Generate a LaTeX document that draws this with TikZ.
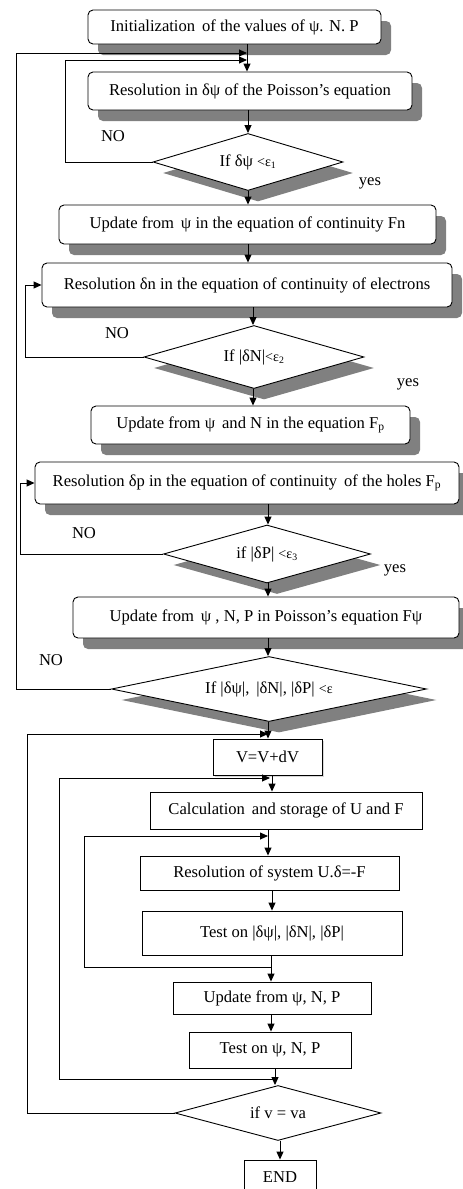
\documentclass[tikz,border=0pt]{standalone}
\usepackage{fontspec}
\setmainfont{Liberation Serif}
\usetikzlibrary{arrows.meta,shapes.geometric,shadows}
\begin{document}
\begin{tikzpicture}[x=1pt,y=-1pt,line width=0.9pt,
  font=\fontsize{16.6}{19}\selectfont,
  arr/.style={-{Triangle[length=8pt,width=7pt]}},
  shad/.style={drop shadow={shadow xshift=10pt,shadow yshift=-11pt,fill=black!50,opacity=1}},
  rbox/.style={draw,rounded corners=5pt,fill=white,inner sep=0pt,shad},
  sbox/.style={draw,fill=white,inner sep=0pt},
  dia/.style={draw,diamond,fill=white,inner sep=0pt,shad},
  lbl/.style={inner sep=0pt}]
\useasboundingbox (0,0) rectangle (463,1189);
\newcommand{\smt}[1]{{\fontsize{14}{14}\selectfont #1}}
% top part
\node[rbox,minimum width=293pt,minimum height=34pt] (b1) at (234.5,27) {Initialization\,\ of the values of ψ. N. P};
\node[rbox,minimum width=324pt,minimum height=38pt] (b2) at (250,91) {Resolution in δψ of the Poisson’s equation};
\node[dia,aspect=3.33,minimum width=190pt,minimum height=57pt] (d1) at (248,162) {If δψ \smt{<ε\textsubscript{1}}};
\node[rbox,minimum width=377pt,minimum height=39pt] (b3) at (247.5,224.5) {Update from\,\ ψ in the equation of continuity Fn};
\node[rbox,minimum width=410pt,minimum height=44pt] (b4) at (247,285) {Resolution δn in the equation of continuity of electrons};
\node[dia,aspect=3.5,minimum width=220pt,minimum height=63pt] (d2) at (254,357) {If |δN|\smt{<ε\textsubscript{2}}};
\node[rbox,minimum width=319pt,minimum height=38pt] (b5) at (250.5,425) {Update from ψ\,\ and N in the equation F\textsubscript{p}};
\node[rbox,minimum width=424pt,minimum height=42pt] (b6) at (247,483) {Resolution δp in the equation of continuity\, of the holes F\textsubscript{p}};
\node[dia,aspect=3.57,minimum width=207pt,minimum height=58pt] (d3) at (267,554) {if |δP| \smt{<ε\textsubscript{3}}};
\node[rbox,minimum width=386pt,minimum height=41pt] (b7) at (266,617.5) {Update from\,\ ψ , N, P in Poisson’s equation Fψ};
\node[dia,aspect=4.85,minimum width=315pt,minimum height=65pt] (d4) at (269,689) {If |δψ|,\, |δN|, |δP| \smt{<ε}};
% bottom part
\node[sbox,minimum width=109pt,minimum height=36pt,drop shadow={shadow xshift=2pt,shadow yshift=-2pt,fill=black!30,opacity=0.5}] (v) at (267.5,757) {V=V+dV};
\node[sbox,minimum width=272pt,minimum height=37pt] (calc) at (286,810.5) {Calculation\,\ and storage of U and F};
\node[sbox,minimum width=259pt,minimum height=34pt] (res) at (269.5,873) {Resolution of system U.δ=-F};
\node[sbox,minimum width=260pt,minimum height=44pt] (test) at (272,933) {Test on |δψ|, |δN|, |δP|};
\node[sbox,minimum width=198pt,minimum height=32pt] (upd) at (272,998) {Update from ψ, N, P};
\node[sbox,minimum width=162pt,minimum height=36pt] (tp) at (270,1050) {Test on ψ, N, P};
\node[draw,diamond,aspect=3.75,fill=white,inner sep=0pt,minimum width=206pt,minimum height=55pt] (d5) at (278,1113) {if v = va};
\node[sbox,minimum width=72pt,minimum height=35pt] (end) at (280,1177.5) {END};
% labels
\node[lbl] (no1) at (113,136) {NO};
\node[lbl] (no2) at (117,333) {NO};
\node[lbl] (no3) at (84,533) {NO};
\node[lbl] (no4) at (51,660) {NO};
\node[lbl] (y1) at (370,183) {yes};
\node[lbl] (y2) at (408,384) {yes};
\node[lbl] (y3) at (395,570) {yes};
% column coordinates
\coordinate (c1) at (247,0);
\coordinate (c2) at (253,0);
\coordinate (c3) at (268,0);
\coordinate (c4) at (272,0);
\coordinate (c6) at (275,0);
\coordinate (L1) at (16,0);
\coordinate (L2) at (65,0);
\coordinate (L3) at (25,0);
\coordinate (L4) at (20,0);
\coordinate (L5) at (27,0);
\coordinate (L6) at (59,0);
\coordinate (L7) at (84,0);
\coordinate (t1) at (247,53);
\coordinate (t2) at (247,60);
\coordinate (t3) at (268,734);
\coordinate (t4) at (270,778);
\coordinate (t5) at (268,836);
\coordinate (j1) at (271,967);
\coordinate (j2) at (275,1079);
% vertical flow
\draw[arr] (b1.south -| c1) -- (b2.north -| c1);
\draw[arr] (b2.south -| d1) -- (d1.north);
\draw[arr] (d1.south) -- (b3.north -| d1);
\draw[arr] (b3.south -| d1) -- (b4.north -| d1);
\draw[arr] (b4.south -| c2) -- (d2.north -| c2);
\draw[arr] (d2.south -| c2) -- (b5.north -| c2);
\draw[arr] (b6.south -| c3) -- (d3.north -| c3);
\draw[arr] (d3.south -| c3) -- (b7.north -| c3);
\draw[arr] (b7.south -| c3) -- (d4.north -| c3);
\draw[arr] (d4.south -| c3) -- (v.north -| c3);
\draw[arr] (v.south -| c4) -- (calc.north -| c4);
\draw[arr] (calc.south -| c3) -- (res.north -| c3);
\draw[arr] (res.south -| c4) -- (test.north -| c4);
\draw[arr] (test.south -| j1) -- (upd.north -| j1);
\draw[arr] (upd.south -| j1) -- (tp.north -| j1);
\draw[arr] (tp.south -| c6) -- (d5.north -| c6);
\draw[arr] (d5.south -| end) -- (end.north);
% loops
\draw[arr] (d4.west) -- (d4.west -| L1) -- (L1 |- t1) -- (t1);
\draw[arr] (d1.west) -- (d1.west -| L2) -- (L2 |- t2) -- (t2);
\draw[arr] (d2.west) -- (d2.west -| L3) -- (L3 |- b4.west) -- (b4.west);
\draw[arr] (d3.west) -- (d3.west -| L4) -- (L4 |- b6.west) -- (b6.west);
\draw[arr] (d5.west) -- (d5.west -| L5) -- (L5 |- t3) -- (t3);
\draw (j2) -- (j2 -| L6);
\draw[arr] (j2 -| L6) -- (L6 |- t4) -- (t4);
\draw (j1) -- (j1 -| L7);
\draw[arr] (j1 -| L7) -- (L7 |- t5) -- (t5);
\end{tikzpicture}
\end{document}
